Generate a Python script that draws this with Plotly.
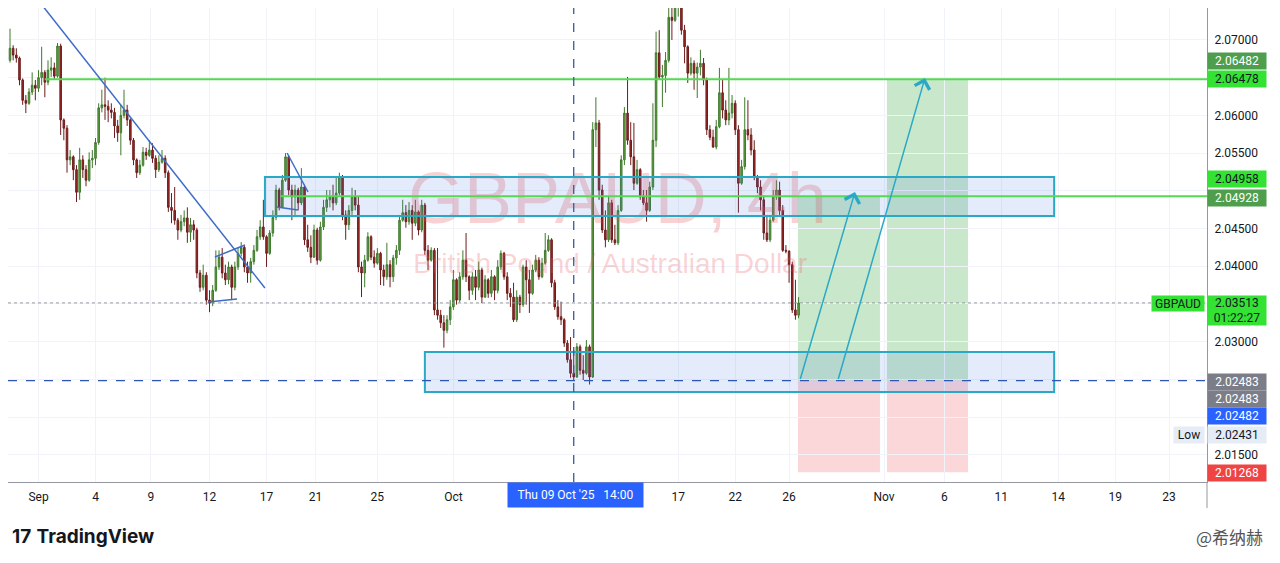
import plotly.graph_objects as go

# ---------------- data (GBPAUD 4h candles) ----------------
first_open = 2.0673
closes = [
 2.0689, 2.0680, 2.0676, 2.0647, 2.0620, 2.0616, 2.0631, 2.0640, 2.0636, 2.0650,
 2.0657, 2.0644, 2.0660, 2.0663, 2.0652, 2.0692, 2.0594, 2.0583, 2.0541, 2.0545,
 2.0528, 2.0498, 2.0541, 2.0528, 2.0514, 2.0541, 2.0543, 2.0564, 2.0610, 2.0614,
 2.0612, 2.0607, 2.0604, 2.0586, 2.0577, 2.0600, 2.0607, 2.0594, 2.0567, 2.0541,
 2.0524, 2.0534, 2.0551, 2.0547, 2.0554, 2.0543, 2.0528, 2.0538, 2.0543, 2.0524,
 2.0478, 2.0474, 2.0461, 2.0448, 2.0459, 2.0464, 2.0445, 2.0455, 2.0448, 2.0391,
 2.0372, 2.0388, 2.0355, 2.0351, 2.0368, 2.0399, 2.0412, 2.0391, 2.0382, 2.0399,
 2.0372, 2.0399, 2.0417, 2.0425, 2.0399, 2.0391, 2.0406, 2.0421, 2.0439, 2.0452,
 2.0439, 2.0417, 2.0444, 2.0465, 2.0501, 2.0478, 2.0514, 2.0545, 2.0501, 2.0492,
 2.0501, 2.0484, 2.0505, 2.0435, 2.0425, 2.0412, 2.0448, 2.0408, 2.0452, 2.0478,
 2.0488, 2.0492, 2.0484, 2.0497, 2.0518, 2.0468, 2.0455, 2.0474, 2.0492, 2.0481,
 2.0399, 2.0391, 2.0408, 2.0439, 2.0412, 2.0404, 2.0417, 2.0395, 2.0386, 2.0402,
 2.0386, 2.0411, 2.0421, 2.0461, 2.0471, 2.0459, 2.0474, 2.0457, 2.0472, 2.0448,
 2.0481, 2.0421, 2.0408, 2.0421, 2.0342, 2.0335, 2.0325, 2.0315, 2.0329, 2.0346,
 2.0382, 2.0355, 2.0386, 2.0408, 2.0386, 2.0368, 2.0386, 2.0372, 2.0395, 2.0359,
 2.0382, 2.0364, 2.0386, 2.0368, 2.0399, 2.0417, 2.0386, 2.0364, 2.0359, 2.0329,
 2.0359, 2.0349, 2.0399, 2.0382, 2.0364, 2.0395, 2.0408, 2.0386, 2.0404, 2.0421,
 2.0435, 2.0378, 2.0346, 2.0333, 2.0329, 2.0298, 2.0276, 2.0258, 2.0253, 2.0293,
 2.0262, 2.0258, 2.0293, 2.0253, 2.0581, 2.0590, 2.0501, 2.0448, 2.0435, 2.0484,
 2.0435, 2.0431, 2.0474, 2.0541, 2.0603, 2.0567, 2.0545, 2.0510, 2.0528, 2.0492,
 2.0484, 2.0474, 2.0505, 2.0567, 2.0683, 2.0651, 2.0653, 2.0673, 2.0730, 2.0726,
 2.0744, 2.0752, 2.0713, 2.0691, 2.0656, 2.0669, 2.0656, 2.0664, 2.0669, 2.0647,
 2.0581, 2.0571, 2.0558, 2.0585, 2.0630, 2.0607, 2.0594, 2.0603, 2.0616, 2.0581,
 2.0510, 2.0532, 2.0581, 2.0574, 2.0554, 2.0518, 2.0505, 2.0488, 2.0444, 2.0435,
 2.0461, 2.0492, 2.0501, 2.0474, 2.0421, 2.0420, 2.0402, 2.0342, 2.0335, 2.03513]
highs = [
 2.0715, 2.0693, 2.0689, 2.0678, 2.0649, 2.0627, 2.0636, 2.0657, 2.0647, 2.0660,
 2.0691, 2.0660, 2.0673, 2.0677, 2.0670, 2.0696, 2.0695, 2.0596, 2.0587, 2.0554,
 2.0547, 2.0534, 2.0557, 2.0547, 2.0534, 2.0551, 2.0554, 2.0570, 2.0616, 2.0634,
 2.0650, 2.0620, 2.0616, 2.0610, 2.0594, 2.0614, 2.0634, 2.0614, 2.0596, 2.0570,
 2.0543, 2.0541, 2.0558, 2.0557, 2.0567, 2.0563, 2.0547, 2.0547, 2.0554, 2.0547,
 2.0527, 2.0497, 2.0505, 2.0464, 2.0468, 2.0474, 2.0478, 2.0464, 2.0461, 2.0451,
 2.0395, 2.0402, 2.0392, 2.0368, 2.0375, 2.0421, 2.0421, 2.0424, 2.0402, 2.0406,
 2.0402, 2.0406, 2.0424, 2.0432, 2.0428, 2.0406, 2.0411, 2.0428, 2.0448, 2.0461,
 2.0488, 2.0441, 2.0448, 2.0474, 2.0508, 2.0504, 2.0521, 2.0550, 2.0547, 2.0508,
 2.0508, 2.0504, 2.0530, 2.0508, 2.0455, 2.0441, 2.0455, 2.0451, 2.0459, 2.0488,
 2.0501, 2.0501, 2.0508, 2.0518, 2.0524, 2.0521, 2.0474, 2.0481, 2.0504, 2.0501,
 2.0492, 2.0406, 2.0415, 2.0445, 2.0441, 2.0421, 2.0424, 2.0419, 2.0402, 2.0431,
 2.0408, 2.0415, 2.0428, 2.0468, 2.0488, 2.0481, 2.0485, 2.0481, 2.0488, 2.0474,
 2.0488, 2.0484, 2.0428, 2.0425, 2.0424, 2.0424, 2.0342, 2.0335, 2.0335, 2.0355,
 2.0395, 2.0384, 2.0392, 2.0421, 2.0444, 2.0388, 2.0392, 2.0395, 2.0406, 2.0398,
 2.0388, 2.0384, 2.0395, 2.0388, 2.0408, 2.0421, 2.0419, 2.0392, 2.0371, 2.0378,
 2.0368, 2.0362, 2.0402, 2.0408, 2.0395, 2.0402, 2.0415, 2.0412, 2.0411, 2.0444,
 2.0441, 2.0437, 2.0382, 2.0355, 2.0353, 2.0331, 2.0302, 2.0306, 2.0289, 2.0298,
 2.0296, 2.0282, 2.0302, 2.0296, 2.0591, 2.0624, 2.0594, 2.0508, 2.0474, 2.0492,
 2.0488, 2.0455, 2.0481, 2.0547, 2.0611, 2.0651, 2.0591, 2.0590, 2.0541, 2.0530,
 2.0501, 2.0501, 2.0512, 2.0616, 2.0711, 2.0713, 2.0667, 2.0684, 2.0749, 2.0746,
 2.0753, 2.0760, 2.0756, 2.0720, 2.0693, 2.0677, 2.0673, 2.0670, 2.0687, 2.0676,
 2.0650, 2.0587, 2.0581, 2.0594, 2.0663, 2.0647, 2.0620, 2.0663, 2.0627, 2.0620,
 2.0587, 2.0541, 2.0624, 2.0620, 2.0583, 2.0567, 2.0521, 2.0514, 2.0494, 2.0468,
 2.0468, 2.0501, 2.0514, 2.0512, 2.0481, 2.0428, 2.0421, 2.0406, 2.0382, 2.0359]
lows = [
 2.0670, 2.0673, 2.0670, 2.0640, 2.0614, 2.0603, 2.0614, 2.0627, 2.0620, 2.0631,
 2.0640, 2.0624, 2.0640, 2.0651, 2.0647, 2.0650, 2.0574, 2.0567, 2.0524, 2.0534,
 2.0514, 2.0485, 2.0488, 2.0517, 2.0506, 2.0512, 2.0530, 2.0534, 2.0561, 2.0604,
 2.0594, 2.0591, 2.0596, 2.0570, 2.0565, 2.0547, 2.0596, 2.0586, 2.0561, 2.0534,
 2.0517, 2.0521, 2.0532, 2.0541, 2.0545, 2.0537, 2.0517, 2.0525, 2.0536, 2.0517,
 2.0472, 2.0457, 2.0455, 2.0435, 2.0445, 2.0453, 2.0431, 2.0432, 2.0435, 2.0384,
 2.0366, 2.0368, 2.0349, 2.0339, 2.0347, 2.0366, 2.0395, 2.0384, 2.0375, 2.0376,
 2.0355, 2.0368, 2.0395, 2.0413, 2.0392, 2.0378, 2.0378, 2.0402, 2.0419, 2.0435,
 2.0435, 2.0399, 2.0415, 2.0439, 2.0461, 2.0474, 2.0477, 2.0512, 2.0494, 2.0461,
 2.0468, 2.0474, 2.0481, 2.0428, 2.0419, 2.0404, 2.0411, 2.0402, 2.0406, 2.0448,
 2.0472, 2.0478, 2.0474, 2.0481, 2.0494, 2.0461, 2.0435, 2.0448, 2.0468, 2.0474,
 2.0392, 2.0359, 2.0372, 2.0406, 2.0408, 2.0398, 2.0402, 2.0375, 2.0374, 2.0382,
 2.0372, 2.0379, 2.0402, 2.0415, 2.0459, 2.0451, 2.0455, 2.0435, 2.0453, 2.0441,
 2.0445, 2.0415, 2.0395, 2.0406, 2.0335, 2.0329, 2.0318, 2.0292, 2.0311, 2.0322,
 2.0342, 2.0349, 2.0352, 2.0382, 2.0379, 2.0355, 2.0362, 2.0355, 2.0368, 2.0351,
 2.0358, 2.0358, 2.0359, 2.0355, 2.0364, 2.0395, 2.0382, 2.0355, 2.0346, 2.0326,
 2.0326, 2.0338, 2.0346, 2.0349, 2.0338, 2.0362, 2.0392, 2.0382, 2.0384, 2.0402,
 2.0419, 2.0372, 2.0342, 2.0329, 2.0322, 2.0293, 2.0272, 2.0252, 2.02483, 2.0252,
 2.0256, 2.0249, 2.0256, 2.02431, 2.0252, 2.0558, 2.0488, 2.0444, 2.0425, 2.0432,
 2.0431, 2.0428, 2.0428, 2.0472, 2.0534, 2.0561, 2.0534, 2.0501, 2.0508, 2.0488,
 2.0481, 2.0459, 2.0472, 2.0501, 2.0558, 2.0647, 2.0611, 2.0630, 2.0670, 2.0700,
 2.0724, 2.0731, 2.0707, 2.0669, 2.0643, 2.0653, 2.0634, 2.0623, 2.0653, 2.0640,
 2.0574, 2.0567, 2.0557, 2.0555, 2.0583, 2.0596, 2.0587, 2.0587, 2.0596, 2.0574,
 2.0471, 2.0508, 2.0528, 2.0567, 2.0547, 2.0514, 2.0497, 2.0474, 2.0435, 2.0432,
 2.0432, 2.0459, 2.0488, 2.0468, 2.0419, 2.0417, 2.0378, 2.0338, 2.0329, 2.0331]

# time-axis labels (bar-index positions)
x_tick_pos = [9, 27, 44.5, 63, 81, 96.5, 116, 140, 211, 229, 246, 276, 295, 313, 331, 349, 366]
x_tick_text = ["Sep", "4", "9", "12", "17", "21", "25", "Oct", "17", "22", "26",
               "Nov", "6", "11", "14", "19", "23"]
# price-axis labels that are not hidden behind the price tags
y_tick_vals = [2.015, 2.030, 2.040, 2.045, 2.055, 2.060, 2.070, 2.075]

# key price levels
last_price = 2.03513
resist_upper = 2.06478
resist_mid = 2.04928
entry_level = 2.02483
stop_level = 2.01268
crosshair_bar = 178

n = min(len(closes), len(highs), len(lows))
closes, highs, lows = closes[:n], highs[:n], lows[:n]
opens = [first_open] + closes[:-1]
idx = list(range(n))

# the page body adds an 8px offset, so the figure is 8px smaller and the
# visible ranges start 8px later
X_RANGE = [-0.63, 377.96]
Y_RANGE = [2.01138, 2.07424]

fig = go.Figure()

# watermark
wm_color = "rgba(235,85,90,0.27)"
fig.add_trace(go.Scatter(x=[191.8], y=[2.04812], mode="text", text=["GBPAUD, 4h"],
                         textfont=dict(size=72, color=wm_color, family="Liberation Sans"),
                         hoverinfo="skip", showlegend=False))
fig.add_trace(go.Scatter(x=[189.5], y=[2.04003], mode="text", text=["British Pound / Australian Dollar"],
                         textfont=dict(size=28, color=wm_color, family="Liberation Sans"),
                         hoverinfo="skip", showlegend=False))

fig.add_trace(go.Candlestick(
    x=idx, open=opens, high=highs, low=lows, close=closes,
    increasing=dict(line=dict(color="#3f7a2c", width=1), fillcolor="#5fa043"),
    decreasing=dict(line=dict(color="#6e1c1c", width=1), fillcolor="#9d2a28"),
    whiskerwidth=0, showlegend=False, hoverinfo="skip"))

shapes = []
teal = "#2aa9c6"
# rectangles (zones)
shapes.append(dict(type="rect", xref="x", yref="y", x0=80.5, x1=329.7, y0=2.04666, y1=2.05183,
                   line=dict(color=teal, width=2), fillcolor="rgba(66,120,230,0.14)", layer="above"))
shapes.append(dict(type="rect", xref="x", yref="y", x0=131.0, x1=329.7, y0=2.02332, y1=2.02862,
                   line=dict(color=teal, width=2), fillcolor="rgba(66,120,230,0.14)", layer="above"))
# long-position tools
for x0, x1, tgt in [(248.8, 274.7, resist_mid), (276.9, 302.5, resist_upper)]:
    shapes.append(dict(type="rect", xref="x", yref="y", x0=x0, x1=x1, y0=entry_level, y1=tgt,
                       line=dict(width=0), fillcolor="rgba(76,175,80,0.30)", layer="below"))
    shapes.append(dict(type="rect", xref="x", yref="y", x0=x0, x1=x1, y0=stop_level, y1=entry_level,
                       line=dict(width=0), fillcolor="rgba(242,54,69,0.20)", layer="below"))
# green horizontal levels
shapes.append(dict(type="line", xref="x", yref="y", x0=11, x1=X_RANGE[1], y0=resist_upper, y1=resist_upper,
                   line=dict(color="#55d955", width=2), layer="above"))
shapes.append(dict(type="line", xref="x", yref="y", x0=85.3, x1=X_RANGE[1], y0=resist_mid, y1=resist_mid,
                   line=dict(color="#55d955", width=2), layer="above"))
# dashed entry line and crosshair
shapes.append(dict(type="line", xref="paper", yref="y", x0=0, x1=1, y0=entry_level, y1=entry_level,
                   line=dict(color="#2f56b0", width=1.3, dash="dash"), layer="above"))
shapes.append(dict(type="line", xref="x", yref="paper", x0=crosshair_bar, x1=crosshair_bar, y0=0, y1=1,
                   line=dict(color="#3a5a9c", width=1.3, dash="dash"), layer="above"))
# last-price dotted line
shapes.append(dict(type="line", xref="paper", yref="y", x0=0, x1=1, y0=last_price, y1=last_price,
                   line=dict(color="#9598a1", width=1, dash="dot"), layer="above"))
# trend lines
blue = "#3e6cc8"
for (xa, ya, xb, yb) in [(8.84, 2.07531, 80.5, 2.03711),
                         (62.5, 2.03525, 71.7, 2.03565),
                         (64.7, 2.04122, 74.2, 2.04281),
                         (87.5, 2.05501, 94.1, 2.04984),
                         (84.3, 2.04785, 90.9, 2.04745)]:
    shapes.append(dict(type="line", xref="x", yref="y", x0=xa, y0=ya, x1=xb, y1=yb,
                       line=dict(color=blue, width=1.5), layer="above"))
# axis line continuation into time strip
shapes.append(dict(type="line", xref="paper", yref="paper", x0=1, x1=1, y0=0, y1=-0.055,
                   line=dict(color="#9598a1", width=1)))

annotations = []
# arrows
for (xt, yt, xh, yh) in [(249.4, entry_level, 266.8, 2.04984), (261.4, entry_level, 288.9, 2.06496)]:
    annotations.append(dict(x=xh, y=yh, ax=xt, ay=yt, xref="x", yref="y", axref="x", ayref="y",
                            text="", showarrow=True, arrowhead=4, arrowsize=2.0, arrowwidth=1.5,
                            arrowcolor=teal, standoff=0, startstandoff=0))

def tag(price, text, bg, fg, yshift=0, h=14):
    annotations.append(dict(xref="paper", yref="y", x=1.0, y=price, xanchor="left", yanchor="middle",
                            text=text, showarrow=False, bgcolor=bg, width=56, height=h, borderpad=1,
                            font=dict(size=12, color=fg, family="Roboto"), yshift=yshift, align="center"))

tag(2.06482, "2.06482", "#4e9e4e", "#ffffff", 18)
tag(2.06478, "2.06478", "#33e233", "#131722", 0)
tag(2.04958, "2.04958", "#33e233", "#131722", 15)
tag(2.04928, "2.04928", "#4e9e4e", "#ffffff", -2)
tag(last_price, "2.03513<br>01:22:27", "#33e233", "#131722", -8, h=27)
tag(2.02483, "2.02483", "#7b7e88", "#ffffff", -1)
tag(2.02483, "2.02483", "#7b7e88", "#ffffff", -18)
tag(2.02482, "2.02482", "#2962ff", "#ffffff", -35)
tag(2.02431, "2.02431", "#e6ecf6", "#131722", -50)
tag(stop_level, "2.01268", "#ef4444", "#ffffff", -1)
# left-side labels
annotations.append(dict(xref="paper", yref="y", x=0.9985, y=last_price, xanchor="right", yanchor="middle",
                        text="GBPAUD", showarrow=False, bgcolor="#33e233", width=50, height=13, borderpad=1,
                        font=dict(size=12, color="#131722", family="Roboto"), yshift=-1))
annotations.append(dict(xref="paper", yref="y", x=0.9985, y=2.02431, xanchor="right", yanchor="middle",
                        text="Low", showarrow=False, bgcolor="#e6ecf6", width=28, height=14, borderpad=1,
                        font=dict(size=12, color="#131722", family="Roboto"), yshift=-50))
# crosshair time label
annotations.append(dict(xref="x", yref="paper", x=crosshair_bar + 0.7, y=0, xanchor="center", yanchor="top",
                        text="Thu 09 Oct '25&nbsp;&nbsp;&nbsp;14:00", showarrow=False, bgcolor="#2962ff",
                        width=133, height=22, borderpad=1,
                        font=dict(size=12, color="#ffffff", family="Roboto")))
# footer
annotations.append(dict(xref="paper", yref="paper", x=0.0017, y=-0.116, xanchor="left", yanchor="middle",
                        text="<b>17</b> <b>TradingView</b>", showarrow=False,
                        font=dict(size=19, color="#131722", family="Inter")))
annotations.append(dict(xref="paper", yref="paper", x=1.0484, y=-0.116, xanchor="right", yanchor="middle",
                        text="@希纳赫", showarrow=False,
                        font=dict(size=17, color="#555555", family="Noto Sans CJK SC")))

fig.update_layout(
    width=1272, height=555,
    margin=dict(l=0, r=73, t=0, b=81, pad=0, autoexpand=False),
    paper_bgcolor="#ffffff", plot_bgcolor="#ffffff",
    showlegend=False, shapes=shapes, annotations=annotations,
    hovermode=False,
    xaxis=dict(range=X_RANGE, tickmode="array", tickvals=x_tick_pos, ticktext=x_tick_text,
               showgrid=True, gridcolor="#f0f3fa", zeroline=False, showline=True, linecolor="#9598a1",
               ticks="outside", ticklen=4, tickcolor="rgba(0,0,0,0)", automargin=False,
               tickfont=dict(size=12, color="#131722", family="Roboto"),
               rangeslider=dict(visible=False), fixedrange=True),
    yaxis=dict(range=Y_RANGE, side="right", tickmode="array", tickvals=y_tick_vals, tickformat=".5f",
               showgrid=True, gridcolor="#f0f3fa", zeroline=False, showline=True, linecolor="#9598a1",
               ticks="outside", ticklen=4, tickcolor="rgba(0,0,0,0)", automargin=False,
               minor=dict(tick0=2.0, dtick=0.005, showgrid=True, gridcolor="#f0f3fa", ticks=""),
               tickfont=dict(size=12, color="#131722", family="Roboto"), fixedrange=True),
)

fig.write_html("out.html")
